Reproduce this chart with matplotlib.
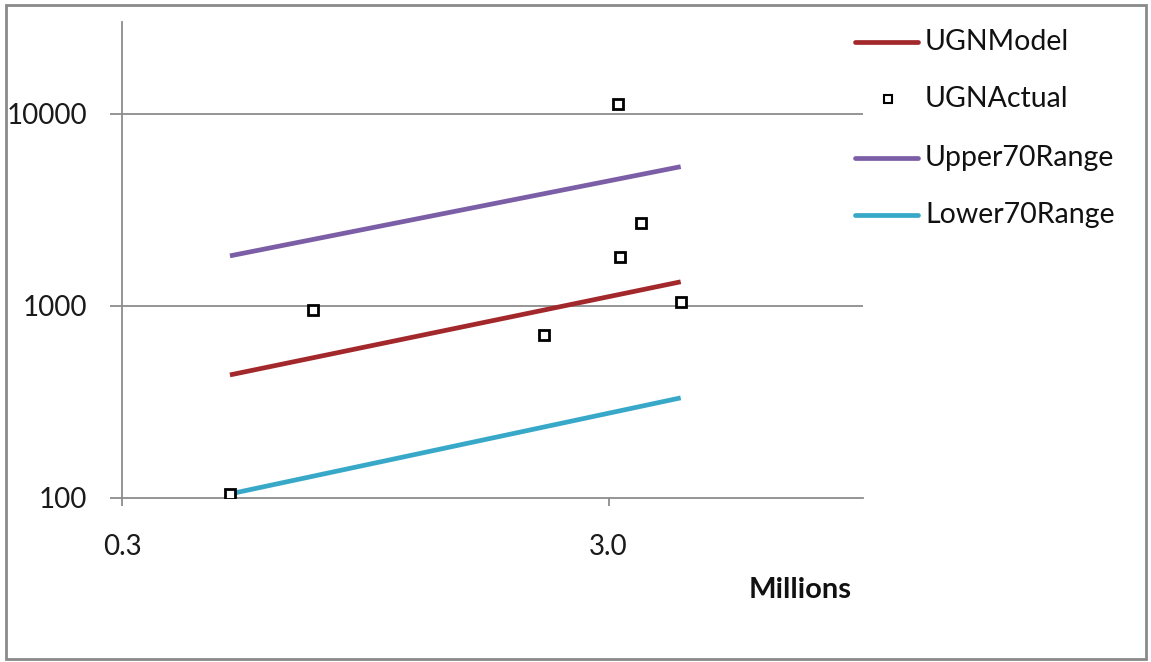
import matplotlib
matplotlib.use("Agg")
import matplotlib.pyplot as plt
from matplotlib.lines import Line2D
from matplotlib.patches import Rectangle
from matplotlib.ticker import FixedLocator, NullLocator

plt.rcParams['font.family'] = ['Lato', 'DejaVu Sans']

# Data
line_x = [0.50, 4.22]
ugn_model = [437, 1334]
upper70 = [1820, 5300]
lower70 = [105, 332]

actual_x = [0.50, 0.74, 2.21, 3.13, 3.17, 3.49, 4.22]
actual_y = [105, 953, 706, 11270, 1799, 2705, 1049]

x_ticks = [0.3, 3.0]
x_tick_labels = ["0.3", "3.0"]
y_ticks = [100, 1000, 10000]
y_tick_labels = ["100", "1000", "10000"]

W, H = 1151, 662
fig = plt.figure(figsize=(W / 100, H / 100), dpi=100)
ax = fig.add_axes([122 / W, 1 - 498 / H, (863 - 122) / W, (498 - 22) / H])

c_model = '#A3282B'
c_upper = '#7B5EA6'
c_lower = '#38A8C9'
grid_c = '#8C8C8C'

ax.set_xscale('log')
ax.set_yscale('log')
ax.set_xlim(0.3, 10)
ax.set_ylim(100, 30000)

for yv in y_ticks[1:]:
    ax.axhline(yv, color=grid_c, lw=1.3, zorder=1)

ax.plot(line_x, ugn_model, color=c_model, lw=3.4, solid_capstyle='butt', zorder=3)
ax.plot(line_x, upper70, color=c_upper, lw=3.4, solid_capstyle='butt', zorder=3)
ax.plot(line_x, lower70, color=c_lower, lw=3.4, solid_capstyle='butt', zorder=3)
ax.plot(actual_x, actual_y, ls='none', marker='s', ms=7, mfc='white', mec='black', mew=2, zorder=4)

ax.xaxis.set_major_locator(FixedLocator(x_ticks))
ax.xaxis.set_minor_locator(NullLocator())
ax.set_xticklabels(x_tick_labels)
ax.yaxis.set_major_locator(FixedLocator(y_ticks))
ax.yaxis.set_minor_locator(NullLocator())
ax.set_yticklabels(y_tick_labels)

for s in ['top', 'right']:
    ax.spines[s].set_visible(False)
for s in ['left', 'bottom']:
    ax.spines[s].set_color(grid_c)
    ax.spines[s].set_linewidth(1.3)
ax.tick_params(axis='y', length=9, width=1.3, color=grid_c, pad=16, labelsize=20, labelcolor='#1a1a1a')
ax.tick_params(axis='x', length=6, width=1.3, color=grid_c, pad=20, labelsize=20, labelcolor='#1a1a1a')

fig.text(800 / W, 1 - 590 / H, "Millions", fontsize=21, fontweight='bold', ha='center', va='center', color='#111111')

# Legend (manual)
labels = ["UGNModel", "UGNActual", "Upper70Range", "Lower70Range"]
ys = [42, 99, 158, 215]
for lab, yy in zip(labels, ys):
    fy = 1 - yy / H
    if lab == "UGNActual":
        fig.add_artist(Line2D([888 / W], [fy], marker='s', ms=6, mfc='white', mec='black', mew=1.5, ls='none'))
    else:
        col = {"UGNModel": c_model, "Upper70Range": c_upper, "Lower70Range": c_lower}[lab]
        fig.add_artist(Line2D([855 / W, 918 / W], [fy, fy], color=col, lw=3.4, solid_capstyle='round'))
    fig.text(925 / W, fy, lab, fontsize=20.5, ha='left', va='center', color='#111111')

fig.add_artist(Rectangle((6 / W, 1 - 659 / H), (1146 - 6) / W, (659 - 5) / H,
                         transform=fig.transFigure, fill=False, edgecolor='#8a8a8a', lw=2))

fig.savefig('out.png', dpi=100)
